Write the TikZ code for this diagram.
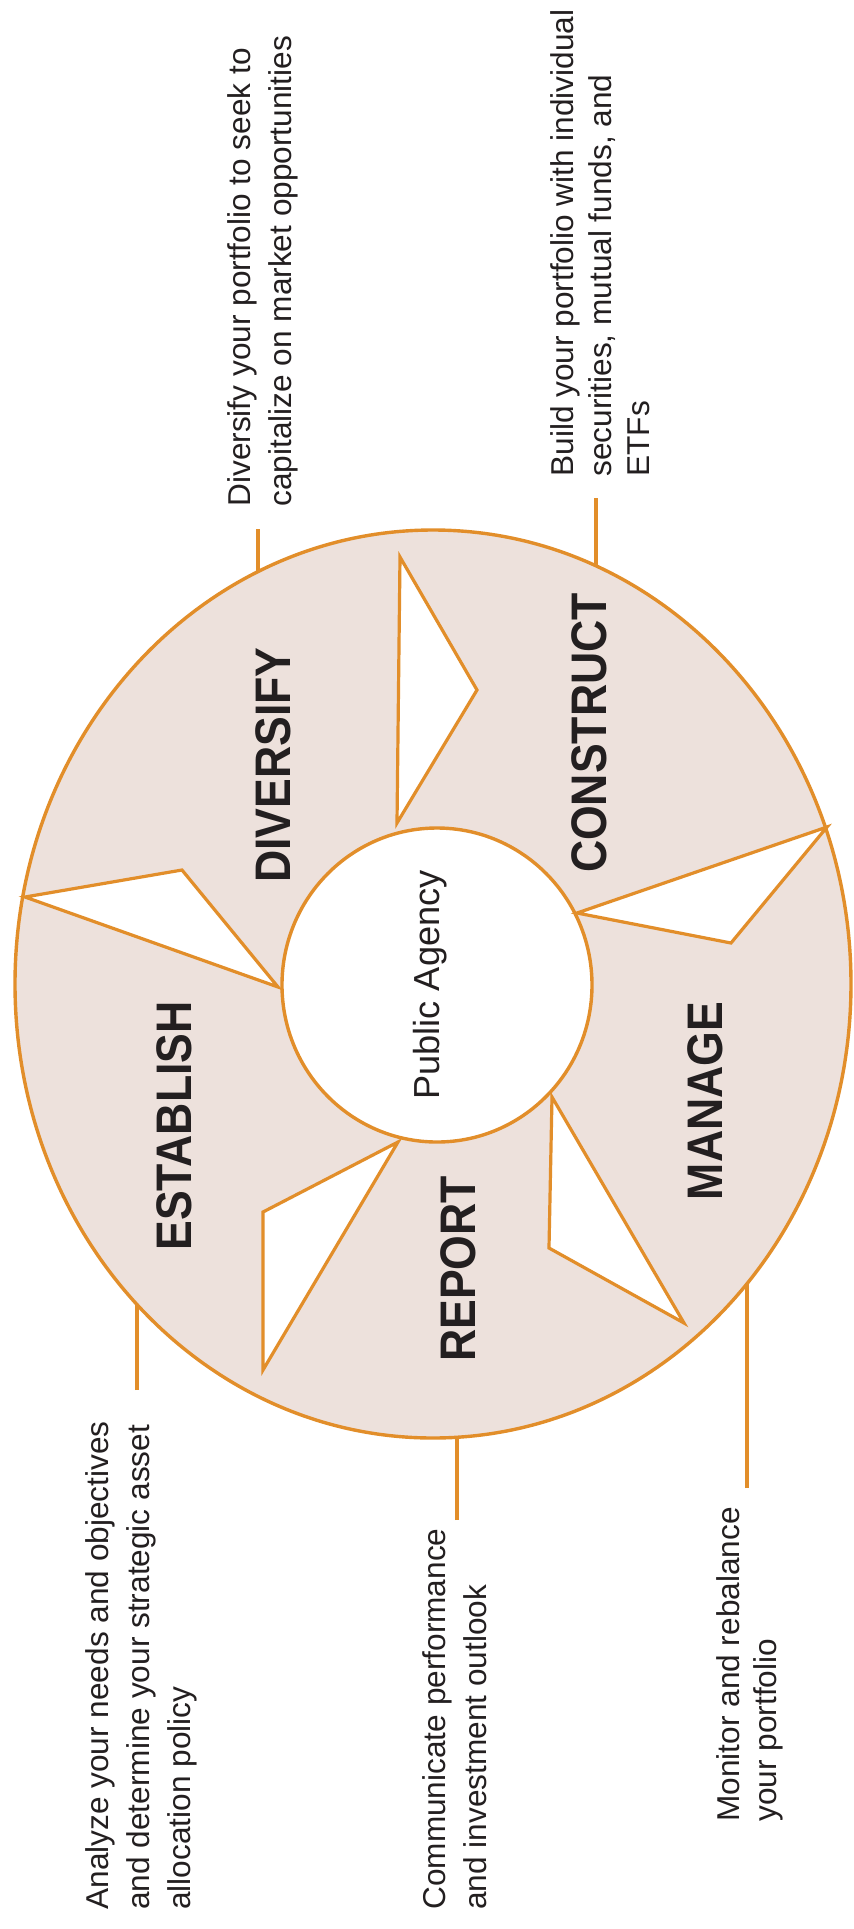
\documentclass[tikz,border=0pt]{standalone}
\usepackage{graphicx}
\usepackage{fontspec}
\setmainfont{Liberation Sans}
\definecolor{ringfill}{RGB}{237,225,220}
\definecolor{ringline}{RGB}{226,142,42}
\definecolor{ink}{RGB}{35,31,32}
\begin{document}
\begin{tikzpicture}[x=0.5pt,y=-0.5pt,
  ringstroke/.style={draw=ringline, line width=1.7pt},
  arrowtri/.style={draw=ringline, line width=1.6pt, fill=white, line join=miter},
  stage/.style={rotate=90, inner sep=0pt, text=ink, font=\bfseries\fontsize{22.3pt}{26pt}\selectfont},
  hubtext/.style={rotate=90, inner sep=0pt, text=ink, font=\fontsize{18.1pt}{22pt}\selectfont},
  desc/.style={rotate=90, anchor=north west, inner sep=0pt, align=left, text=ink},
  pointer/.style={draw=ringline, line width=2.1pt}]
\useasboundingbox (0,0) rectangle (854,1929);
\fill[white] (0,0) rectangle (854,1929);
% ring
\draw[ringstroke, fill=ringfill] (433,984) ellipse [x radius=209pt, y radius=227pt];
\draw[ringstroke, fill=white] (437,985) ellipse [x radius=77.5pt, y radius=78.5pt];
% white arrow triangles
\draw[arrowtri] (25,897) -- (182,870) -- (278,987) -- cycle;
\draw[arrowtri] (400,557) -- (477,690) -- (397,823) -- cycle;
\draw[arrowtri] (827,827) -- (731,943) -- (577,913) -- cycle;
\draw[arrowtri] (552,1097) -- (549,1248) -- (684,1323) -- cycle;
\draw[arrowtri] (398,1142) -- (263,1212) -- (263,1370) -- cycle;
% stage labels
\node[hubtext] (hub) at (430.5,985) {Public Agency};
\node[stage] (sEst) at (174.5,1126) {\scalebox{1}[1.12]{ESTABLISH}};
\node[stage] (sDiv) at (273.5,765) {\scalebox{1}[1.12]{DIVERSIFY}};
\node[stage] (sCon) at (589,733) {\scalebox{1}[1.12]{CONSTRUCT}};
\node[stage] (sMan) at (705,1101) {\scalebox{1}[1.12]{MANAGE}};
\node[stage] (sRep) at (458,1269) {\scalebox{1}[1.12]{REPORT}};
% descriptions
\node[desc, font=\fontsize{15.8pt}{20.5pt}\selectfont] (dDiv) at (227,507)
  {Diversify your portfolio to seek to\\capitalize on market opportunities};
\node[desc, font=\fontsize{15.8pt}{19pt}\selectfont] (dCon) at (550,477)
  {Build your portfolio with individual\\securities, mutual funds, and\\ETFs};
\node[desc, font=\fontsize{15.8pt}{20.5pt}\selectfont] (dEst) at (85,1910)
  {Analyze your needs and objectives\\and determine your strategic asset\\allocation policy};
\node[desc, font=\fontsize{15.8pt}{20.5pt}\selectfont] (dRep) at (422,1910)
  {Communicate performance\\and investment outlook};
\node[desc, font=\fontsize{15.8pt}{18.5pt}\selectfont] (dMan) at (716,1822)
  {Monitor and rebalance\\your portfolio};
% pointer lines
\coordinate (qDivA) at (258,529);  \coordinate (qDivB) at (258,572);
\coordinate (qConA) at (596,498);  \coordinate (qConB) at (596,566);
\coordinate (qEstA) at (137,1390); \coordinate (qEstB) at (137,1305);
\coordinate (qRepA) at (457,1520); \coordinate (qRepB) at (457,1438);
\coordinate (qManA) at (747,1488); \coordinate (qManB) at (747,1284);
\draw[pointer] (qDivA) -- (qDivB);
\draw[pointer] (qConA) -- (qConB);
\draw[pointer] (qEstA) -- (qEstB);
\draw[pointer] (qRepA) -- (qRepB);
\draw[pointer] (qManA) -- (qManB);
\end{tikzpicture}
\end{document}
